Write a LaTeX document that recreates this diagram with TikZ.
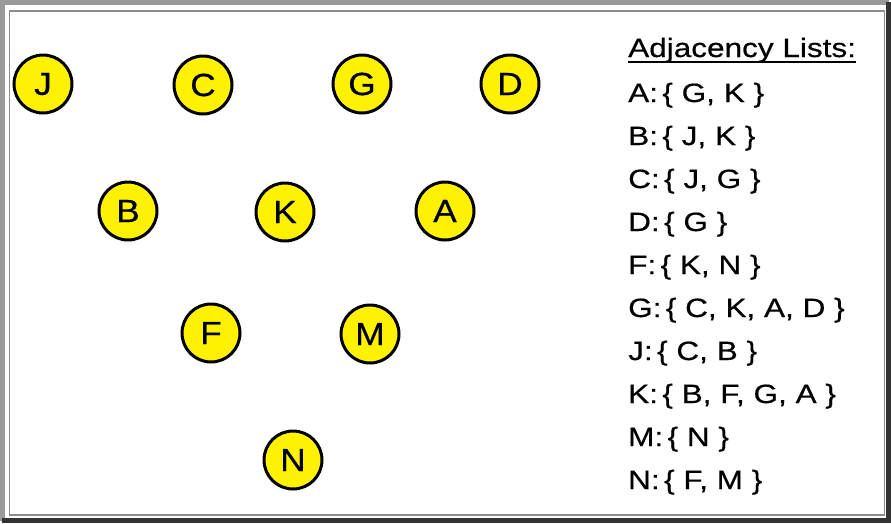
\documentclass[tikz,border=0pt]{standalone}
\usepackage{fontspec}
\newfontfamily\labfont[FakeStretch=1.19,FakeBold=0.5]{Liberation Sans}
\newfontfamily\vfont[FakeStretch=1.1,FakeBold=0.5]{Liberation Sans}
\begin{document}
\begin{tikzpicture}[x=1pt,y=-1pt,
  vertex/.style={circle,draw=black,line width=3pt,fill=yellow,minimum size=58pt,inner sep=0pt,
    font=\vfont\fontsize{32}{32}\selectfont},
  listline/.style={anchor=base west,inner sep=0pt,font=\labfont\fontsize{26.5}{26.5}\selectfont}]
\useasboundingbox (0,0) rectangle (891,523);
\fill[white] (0,0) rectangle (891,523);
% frame
\draw[line width=4.5pt,color=black!40] (2.25,521) -- (2.25,2.25) -- (889,2.25);
\draw[line width=5pt,color=black!80] (2.25,520.5) -- (888.5,520.5) -- (888.5,2.25);
\draw[line width=1.6pt,color=black!45] (9.5,11) rectangle (884.5,515);
% vertices
\node[vertex] (J) at (43,84) {J};
\node[vertex] (C) at (203,85) {C};
\node[vertex] (G) at (362,84) {G};
\node[vertex] (D) at (510,84) {D};
\node[vertex] (B) at (128,211) {B};
\node[vertex] (K) at (285,212) {K};
\node[vertex] (A) at (445,211) {A};
\node[vertex] (F) at (211,333) {F};
\node[vertex] (M) at (370,334) {M};
\node[vertex] (N) at (293,460) {N};
% adjacency lists
\node[listline] (hd) at (628,57) {Adjacency Lists:};
\draw[line width=1.4pt] ([yshift=-5pt]hd.base west) -- ([yshift=-5pt]hd.base east);
\node[listline] (lA) at (628,102) {A:\,\{ G, K \}};
\node[listline] (lB) at (628,145) {B:\,\{ J, K \}};
\node[listline] (lC) at (628,188) {C:\,\{ J, G \}};
\node[listline] (lD) at (628,231) {D:\,\{ G \}};
\node[listline] (lF) at (628,274) {F:\,\{ K, N \}};
\node[listline] (lG) at (628,317) {G:\,\{ C, K, A, D \}};
\node[listline] (lJ) at (628,360) {J:\,\{ C, B \}};
\node[listline] (lK) at (628,403) {K:\,\{ B, F, G, A \}};
\node[listline] (lM) at (628,446) {M:\,\{ N \}};
\node[listline] (lN) at (628,489) {N:\,\{ F, M \}};
\end{tikzpicture}
\end{document}
